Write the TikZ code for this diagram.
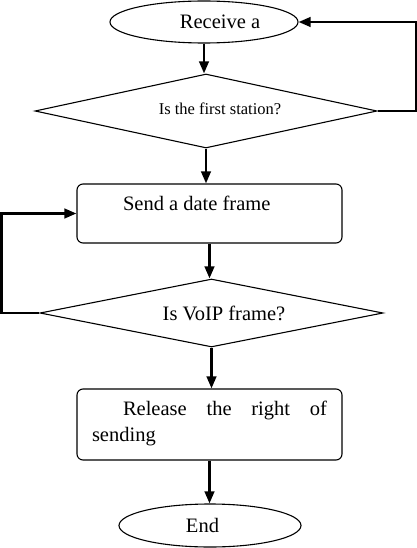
\documentclass[tikz,border=0pt]{standalone}
\usepackage{fontspec}
\setmainfont{Liberation Serif}
\usetikzlibrary{shapes.geometric,arrows.meta}
\newcommand{\procbox}[2]{\parbox[t][#1][t]{235pt}{\hyphenpenalty=10000\relax\tolerance=10000\relax\strut\hspace*{31pt}#2}}
\begin{document}
\begin{tikzpicture}[x=1pt,y=-1pt,
        term/.style={draw,ellipse,line width=1.1pt,minimum height=42pt,inner sep=0pt,font=\fontsize{20.5}{26}\selectfont},
        decision/.style={draw,diamond,aspect=4.6,line width=1.1pt,inner sep=0pt},
        proc/.style={draw,rectangle,rounded corners=6pt,line width=1.1pt,inner xsep=15pt,inner ysep=7.8pt,
            font=\fontsize{20.5}{26}\selectfont},
        arr/.style={-{Triangle[length=12pt,width=9.5pt]},line width=2.5pt}]
        \useasboundingbox (0,0) rectangle (417,548);
        % forme
        \node[term,minimum width=188pt] (recv) at (204,22) {\hspace*{32pt}Receive a};
        \node[decision,minimum width=342pt,minimum height=74pt,font=\fontsize{16.5}{20}\selectfont] (first) at (206,111) {\hspace*{28pt}\raisebox{4pt}{Is the first station?}};
        \node[proc] (send) at (209.5,213.5) {\procbox{43.4pt}{Send a date frame}};
        \node[decision,minimum width=343pt,minimum height=68pt,font=\fontsize{20.5}{26}\selectfont] (voip) at (211.5,313) {\hspace*{25pt}Is VoIP frame?};
        \node[proc] (release) at (209.5,424.5) {\procbox{55.4pt}{Release the right of sending}};
        \node[term,minimum width=182pt,minimum height=43pt] (finish) at (210,525.5) {End\hspace*{15pt}};
        % frecce
        \draw[arr] (recv.south) -- (recv.south |- first.north);
        \draw[arr] (first.south) -- (first.south |- send.north);
        \draw[arr] (send.south) -- (send.south |- voip.north);
        \draw[arr] (voip.south) -- (voip.south |- release.north);
        \draw[arr] (release.south) -- (release.south |- finish.north);
        % ritorni
        \draw[arr] (first.east) -- ++(39,0) |- (recv.east);
        \draw[arr] (voip.west) -- ++(-38,0) |- (send.west);
    \end{tikzpicture}
\end{document}
